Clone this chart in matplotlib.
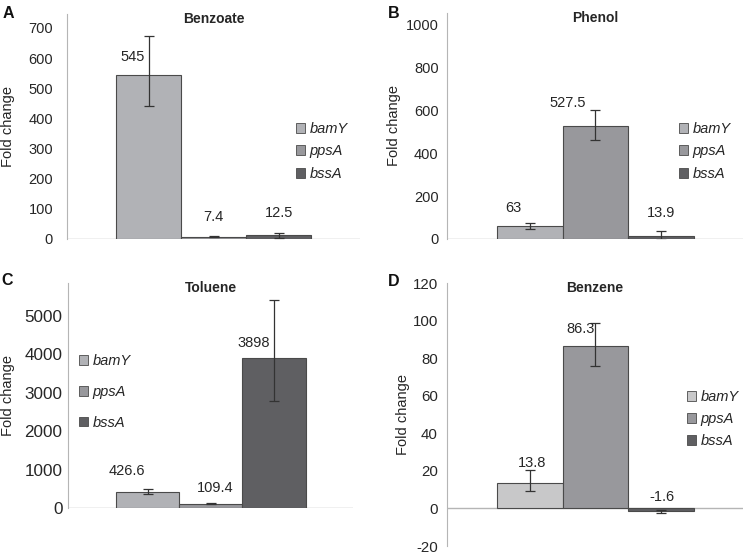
import matplotlib
matplotlib.use("Agg")
import matplotlib.pyplot as plt
from matplotlib.patches import Patch
import numpy as np

plt.rcParams["font.family"] = ["Liberation Sans", "DejaVu Sans"]

genes = ["bamY", "ppsA", "bssA"]

benzoate_vals = [545, 7.4, 12.5]
benzoate_err_lo = [105, 2, 9]
benzoate_err_hi = [127, 2, 9]

phenol_vals = [63, 527.5, 13.9]
phenol_err_lo = [14, 65, 20]
phenol_err_hi = [14, 76, 23]

toluene_vals = [426.6, 109.4, 3898]
toluene_err_lo = [70, 12, 1110]
toluene_err_hi = [75, 12, 1510]

benzene_vals = [13.8, 86.3, -1.6]
benzene_err_lo = [4.6, 10.6, 0.6]
benzene_err_hi = [6.4, 12.3, 0.6]

# layout in pixels of a 750x555 canvas
panels = [
    dict(letter="A", title="Benzoate", vals=benzoate_vals, lo=benzoate_err_lo, hi=benzoate_err_hi,
         ylim=(0, 746), ticks=np.arange(0, 701, 100), box=(67, 14, 360, 239), tick_fs=10.5, tick_pad=10,
         colors=["#b1b2b6", "#98989c", "#5f5f62"], label_dx=[-16, 0, 0], label_dy=[18, 20, 22],
         letter_xy=(3, 6), ylab_x=15, leg=(296, 122), leg_sp=0.58),
    dict(letter="B", title="Phenol", vals=phenol_vals, lo=phenol_err_lo, hi=phenol_err_hi,
         ylim=(0, 1056), ticks=np.arange(0, 1001, 200), box=(447, 13, 743, 239), tick_fs=10.5, tick_pad=6,
         colors=["#b1b2b6", "#98989c", "#5f5f62"], label_dx=[-16, -28, 0], label_dy=[18, 23, 23],
         letter_xy=(388, 6), ylab_x=401, leg=(679, 122), leg_sp=0.58),
    dict(letter="C", title="Toluene", vals=toluene_vals, lo=toluene_err_lo, hi=toluene_err_hi,
         ylim=(0, 5860), ticks=np.arange(0, 5001, 1000), box=(68, 283, 353, 508), tick_fs=12.3, tick_pad=4,
         colors=["#b1b2b6", "#98989c", "#5f5f62"], label_dx=[-21, 4, -20], label_dy=[21, 16, 15],
         letter_xy=(1, 273), ylab_x=15, leg=(79, 354), leg_sp=1.15),
    dict(letter="D", title="Benzene", vals=benzene_vals, lo=benzene_err_lo, hi=benzene_err_hi,
         ylim=(-20, 120), ticks=np.arange(-20, 121, 20), box=(447, 283, 743, 546), tick_fs=10.8, tick_pad=6.5,
         colors=["#c8c8c9", "#98989c", "#5f5f62"], label_dx=[2, -15, 1], label_dy=[20, 17, 11],
         letter_xy=(388, 274), ylab_x=410, leg=(687, 390), leg_sp=0.55),
]

W, H = 750, 555
fig = plt.figure(figsize=(7.5, 5.55), dpi=100)
text_col = "#262626"
spine_col = "#b5b5b5"
px = 0.72  # pixels -> points at 100 dpi

for p in panels:
    l, t, r, b = p["box"]
    ax = fig.add_axes([l / W, 1 - b / H, (r - l) / W, (b - t) / H])
    x = np.arange(3)
    ax.bar(x, p["vals"], width=1.0, color=p["colors"], edgecolor="#4a4a4a", linewidth=0.8,
           yerr=[p["lo"], p["hi"]], error_kw=dict(ecolor="#333333", elinewidth=0.9,
                                                   capsize=3.5, capthick=0.9))
    ax.set_xlim(-1.26, 3.25)
    ax.set_ylim(*p["ylim"])
    ax.set_yticks(p["ticks"])
    ax.set_yticklabels([str(v) for v in p["ticks"]], fontsize=p["tick_fs"], color=text_col)
    ax.tick_params(axis="y", length=0, pad=p["tick_pad"])
    ax.set_xticks([])
    for s in ["top", "right", "bottom"]:
        ax.spines[s].set_visible(False)
    ax.spines["left"].set_color(spine_col)
    ax.axhline(0, color=spine_col, linewidth=1.0, zorder=0)
    ax.set_ylabel("Fold change", fontsize=10.5, color=text_col)
    ax.yaxis.set_label_coords((p["ylab_x"] - l) / (r - l), 0.5)
    ax.set_title(p["title"], fontsize=10, fontweight="bold", color=text_col, pad=-6.5, y=1.0)
    lx, ly = p["letter_xy"]
    fig.text(lx / W, 1 - ly / H, p["letter"], fontsize=11.5, fontweight="bold", color="#111111",
             va="top", ha="left")
    for i, v in enumerate(p["vals"]):
        base = max(v, 0)
        ax.annotate(f"{v:g}", (x[i], base), xytext=(p["label_dx"][i] * px, p["label_dy"][i] * px),
                    textcoords="offset points", ha="center", va="center", fontsize=10.5,
                    color=text_col)
    handles = [Patch(facecolor=c, edgecolor="#4a4a4a", linewidth=0.6) for c in p["colors"]]
    lx, ly = p["leg"]
    ax.legend(handles, genes, loc="upper left", bbox_to_anchor=(lx / W, 1 - ly / H),
              bbox_transform=fig.transFigure, frameon=False, prop=dict(size=10.5, style="italic"),
              handlelength=0.65, handleheight=0.65, handletextpad=0.3, labelspacing=p["leg_sp"],
              borderpad=0, borderaxespad=0, labelcolor=text_col)

fig.savefig("out.png", dpi=100)
